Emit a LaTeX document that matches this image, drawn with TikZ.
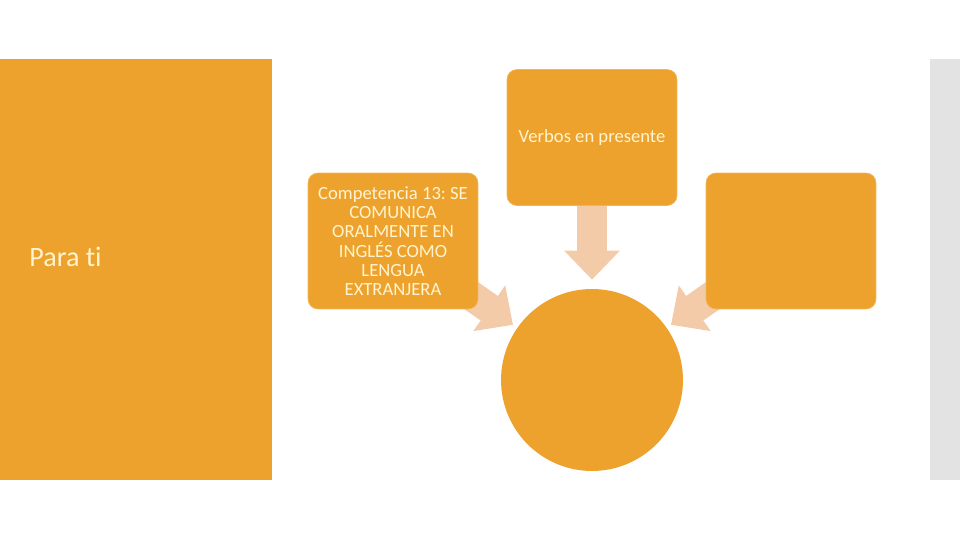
\documentclass[tikz,border=0pt]{standalone}
\usepackage{fontspec}
\setmainfont{Carlito}[Ligatures={NoCommon}]
\usepackage{tikz}
\usepackage{xcolor}
\usetikzlibrary{arrows.meta,backgrounds}
\frenchspacing

\definecolor{naranja}{HTML}{EDA22D}
\definecolor{melocoton}{HTML}{F4CBA9}
\definecolor{crema}{HTML}{FFF4CF}
\definecolor{gris}{HTML}{E3E3E3}

\tikzset{
  caja/.style={rectangle, rounded corners=0.2cm, fill=naranja, draw=naranja!80!white, line width=0.4pt,
    minimum width=3.4cm, minimum height=2.72cm, text=crema, align=center, inner sep=0pt,
    font=\fontsize{10.6}{11}\selectfont},
  flecha/.style={melocoton, line width=0.6cm, line cap=butt, -{Triangle[width=1.08cm, length=0.58cm]}}
}

\begin{document}
\begin{tikzpicture}[x=0.02cm, y=-0.02cm]
\useasboundingbox (0,0) rectangle (960,540);

\fill[naranja] (0,59) rectangle (272,480);
\fill[gris] (930,59) rectangle (960,480);
\node[text=crema, font=\fontsize{16}{19}\selectfont, anchor=west, inner sep=0pt] (parati) at (29,257) {Para t\kern0pt i};

\node[caja] (verbos) at (592,137.5) {Verbos en presente};
\node[caja] (compet) at (393,241) {Competencia 13: SE\\COMUNICA\\ORALMENTE EN\\INGLÉS COMO\\LENGUA\\EXTRANJERA};
\node[caja] (derecha) at (791,241) {};
\node[circle, fill=naranja, minimum size=3.64cm, inner sep=0pt] (circulo) at (592,380) {};

\begin{scope}[on background layer]
\draw[flecha, shorten >=0.18cm] (verbos.center) -- (circulo);
\draw[flecha, shorten >=0.1cm] (compet.center) -- (circulo);
\draw[flecha, shorten >=0.1cm] (derecha.center) -- (circulo);
\end{scope}
\end{tikzpicture}
\end{document}
